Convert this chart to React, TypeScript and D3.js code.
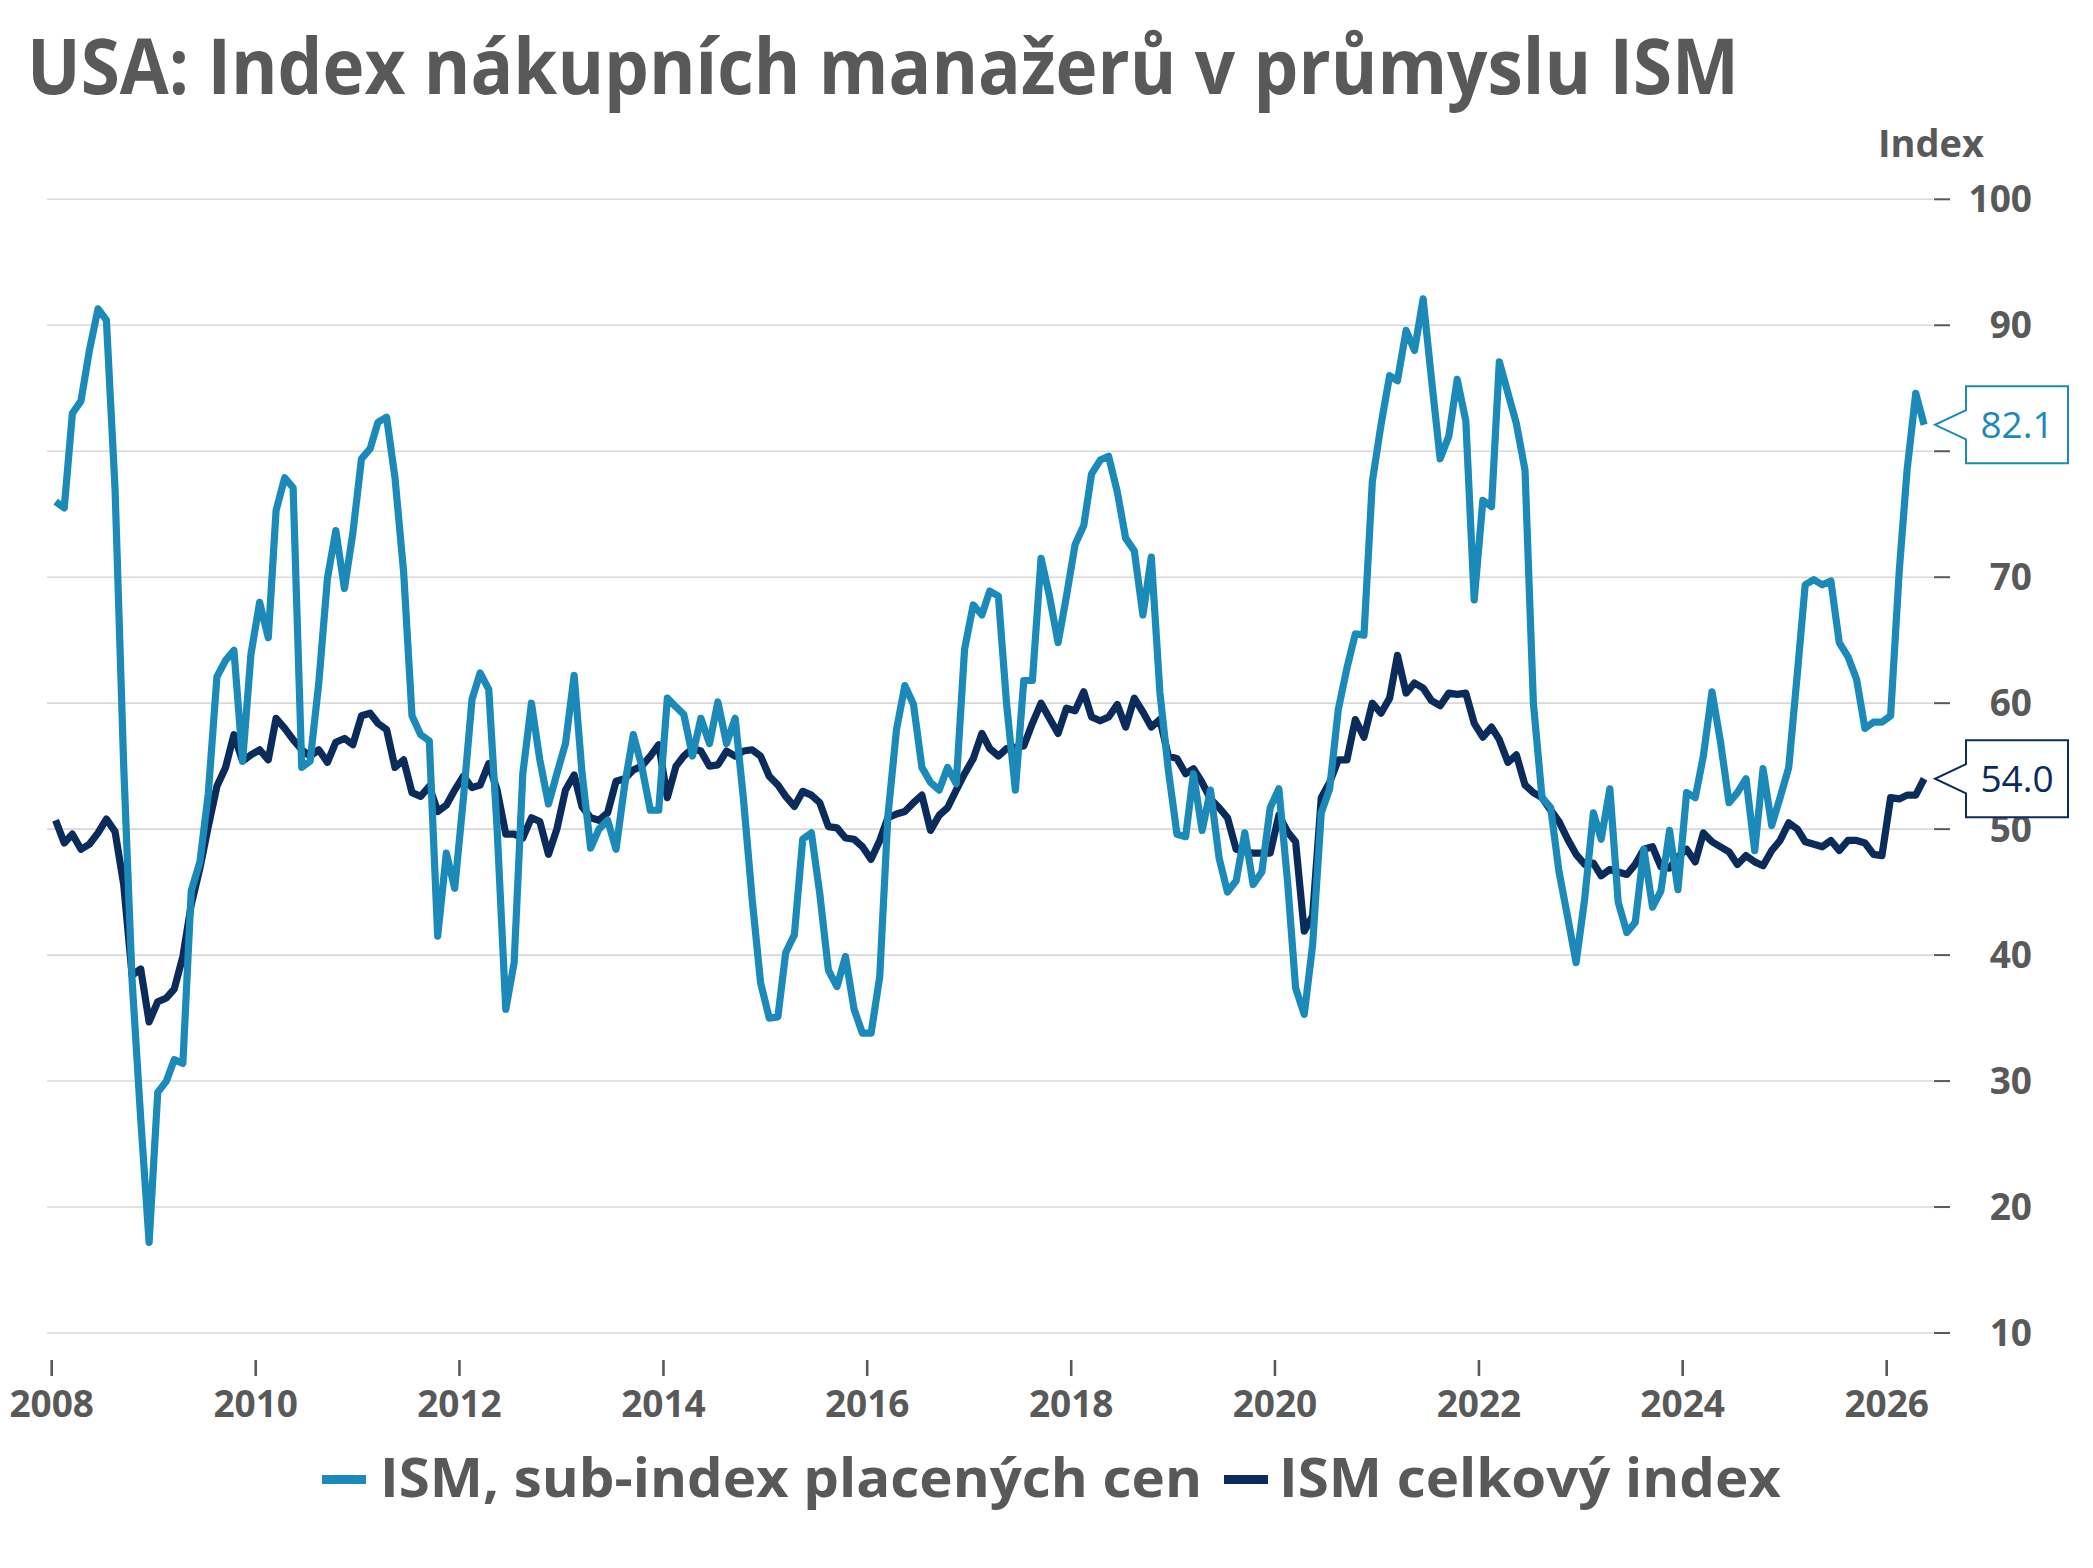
import React from "react";
import * as d3 from "d3";

// ---------- data ----------
const START_YEAR = 2008;

// ISM prices paid sub-index, monthly from Jan 2008
const pricesPaid = [
  // 2008
  76.0, 75.5, 83.0, 84.0, 88.0, 91.3, 90.4, 77.0, 55.0, 38.0, 27.0, 17.2,
  // 2009
  29.1, 30.0, 31.7, 31.4, 45.1, 47.4, 52.8, 62.1, 63.4, 64.2, 55.4, 63.9,
  // 2010
  68.0, 65.2, 75.3, 77.9, 77.1, 54.9, 55.4, 61.6, 69.9, 73.7, 69.1, 73.5,
  // 2011
  79.4, 80.2, 82.3, 82.7, 77.9, 70.4, 59.0, 57.5, 57.0, 41.5, 48.1, 45.3,
  // 2012
  52.4, 60.3, 62.4, 61.1, 50.0, 35.7, 39.4, 54.4, 60.0, 55.5, 52.0, 54.4,
  // 2013
  56.8, 62.2, 54.5, 48.5, 50.0, 50.7, 48.4, 53.5, 57.5, 55.0, 51.5, 51.5,
  // 2014
  60.4, 59.7, 59.1, 55.8, 58.8, 56.8, 60.1, 56.8, 58.8, 52.3, 44.4, 37.8,
  // 2015
  35.0, 35.1, 40.2, 41.6, 49.2, 49.7, 44.9, 38.8, 37.5, 39.9, 35.7, 33.8,
  // 2016
  33.8, 38.3, 51.0, 57.9, 61.4, 59.9, 54.9, 53.7, 53.1, 54.9, 53.6, 64.3,
  // 2017
  67.8, 67.0, 68.9, 68.5, 59.8, 53.1, 61.8, 61.8, 71.5, 68.5, 64.8, 68.5,
  // 2018
  72.6, 74.1, 78.2, 79.3, 79.6, 76.8, 73.1, 72.1, 67.0, 71.6, 60.8, 54.7,
  // 2019
  49.6, 49.4, 54.4, 49.9, 53.1, 47.7, 45.0, 45.9, 49.7, 45.6, 46.6, 51.7,
  // 2020
  53.2, 45.9, 37.4, 35.3, 40.8, 51.3, 53.2, 59.5, 62.8, 65.5, 65.4, 77.6,
  // 2021
  82.1, 86.0, 85.6, 89.6, 88.0, 92.1, 85.7, 79.4, 81.2, 85.7, 82.4, 68.2,
  // 2022
  76.1, 75.6, 87.1, 84.6, 82.2, 78.5, 60.0, 52.5, 51.7, 46.6, 43.0, 39.4,
  // 2023
  44.5, 51.3, 49.2, 53.2, 44.2, 41.8, 42.6, 48.4, 43.8, 45.1, 49.9, 45.2,
  // 2024
  52.9, 52.5, 55.8, 60.9, 57.0, 52.1, 52.9, 54.0, 48.3, 54.8, 50.3, 52.5,
  // 2025
  54.9, 62.4, 69.4, 69.8, 69.4, 69.7, 64.8, 63.7, 61.9, 58.0, 58.5, 58.5,
  // 2026
  59.0, 70.5, 78.5, 84.6, 82.1,
];

// ISM manufacturing PMI (headline), monthly from Jan 2008
const pmiTotal = [
  // 2008
  50.7, 48.9, 49.6, 48.4, 48.8, 49.7, 50.8, 49.8, 45.6, 38.4, 38.9, 34.7,
  // 2009
  36.3, 36.6, 37.3, 39.9, 44.0, 46.9, 50.2, 53.4, 54.9, 57.5, 55.4, 55.9,
  // 2010
  56.3, 55.5, 58.8, 58.0, 57.1, 56.3, 55.8, 56.3, 55.3, 56.9, 57.2, 56.7,
  // 2011
  59.0, 59.2, 58.4, 57.9, 54.9, 55.5, 52.9, 52.6, 53.4, 51.4, 51.9, 53.1,
  // 2012
  54.2, 53.3, 53.5, 55.2, 53.1, 49.6, 49.6, 49.3, 50.9, 50.6, 48.0, 50.0,
  // 2013
  53.1, 54.3, 51.8, 50.9, 50.7, 51.3, 53.8, 54.0, 54.7, 55.0, 55.8, 56.7,
  // 2014
  52.5, 55.0, 55.8, 56.4, 56.2, 55.0, 55.1, 56.2, 55.8, 56.2, 56.3, 55.8,
  // 2015
  54.2, 53.5, 52.6, 51.8, 53.0, 52.7, 52.1, 50.2, 50.1, 49.3, 49.2, 48.6,
  // 2016
  47.6, 49.1, 50.9, 51.2, 51.4, 52.1, 52.7, 49.9, 51.1, 51.7, 53.1, 54.4,
  // 2017
  55.6, 57.6, 56.4, 55.8, 56.4, 56.5, 56.6, 58.4, 60.0, 58.8, 57.6, 59.6,
  // 2018
  59.4, 60.9, 58.9, 58.6, 58.9, 59.9, 58.1, 60.4, 59.3, 58.1, 58.7, 55.8,
  // 2019
  55.6, 54.4, 54.8, 53.7, 52.4, 51.7, 50.9, 48.4, 48.2, 48.1, 48.1, 48.1,
  // 2020
  51.1, 49.8, 49.0, 41.9, 43.1, 52.5, 53.7, 55.5, 55.5, 58.7, 57.3, 60.0,
  // 2021
  59.2, 60.4, 63.8, 60.8, 61.6, 61.2, 60.2, 59.8, 60.8, 60.7, 60.8, 58.4,
  // 2022
  57.3, 58.1, 57.1, 55.3, 55.9, 53.5, 52.9, 52.5, 51.5, 50.6, 49.2, 48.0,
  // 2023
  47.2, 47.3, 46.3, 46.8, 46.6, 46.4, 47.2, 48.4, 48.6, 47.0, 46.9, 47.8,
  // 2024
  48.4, 47.4, 49.7, 49.0, 48.6, 48.2, 47.2, 47.9, 47.4, 47.1, 48.3, 49.1,
  // 2025
  50.5, 50.0, 49.0, 48.8, 48.6, 49.1, 48.3, 49.1, 49.1, 48.9, 48.0, 47.9,
  // 2026
  52.5, 52.4, 52.7, 52.7, 54.0,
];

const yTickValues = [10, 20, 30, 40, 50, 60, 70, 80, 90, 100];
const xTickYears = [2008, 2010, 2012, 2014, 2016, 2018, 2020, 2022, 2024, 2026];
const seriesNames = ["ISM, sub-index placených cen", "ISM celkový index"];
const titleText = "USA: Index nákupních manažerů v průmyslu ISM";
const unitLabel = "Index";

// ---------- style ----------
const W = 2093;
const H = 1568;
const BLUE = "#1B8AB8";
const NAVY = "#0B2C5A";
const TEXT = "#595959";
const GRID = "#D9D9D9";
const FONT = "'Open Sans', 'Noto Sans', 'DejaVu Sans', sans-serif";

const PLOT_LEFT = 47;
const PLOT_RIGHT = 1933;
const CALLOUT_HALF_H = 38.5;

function Callout({ yPos, color, label }: { yPos: number; color: string; label: string }) {
  const tipX = 1935;
  const boxL = 1966;
  const boxR = 2068;
  const halfH = CALLOUT_HALF_H;
  const notch = 14.6;
  const d = `M${boxL},${yPos - halfH} H${boxR} V${yPos + halfH} H${boxL} V${yPos + notch} L${tipX},${yPos} L${boxL},${yPos - notch} Z`;
  return (
    <g>
      <path d={d} fill="#ffffff" stroke={color} strokeWidth={2} />
      <text
        x={(boxL + boxR) / 2}
        y={yPos + 13}
        textAnchor="middle"
        fontFamily={FONT}
        fontSize={37}
        fill={color}
      >
        {label}
      </text>
    </g>
  );
}

export default function App() {
  const x = d3
    .scaleTime()
    .domain([new Date(2008, 0, 1), new Date(2026, 0, 1)])
    .range([51.7, 1886.7]);
  const y = d3.scaleLinear().domain([10, 100]).range([1333, 199.3]);

  const lineGen = d3
    .line<number>()
    .x((_, i) => x(new Date(START_YEAR, i, 15)))
    .y((d) => y(d));

  const fmt = d3.format(".1f");
  const lastPrice = pricesPaid[pricesPaid.length - 1];
  const lastPmi = pmiTotal[pmiTotal.length - 1];
  const calloutYs = [y(lastPrice), y(lastPmi)];
  // axis labels covered by an end-value callout box (as in the original)
  const hiddenUnderCallout = (v: number) =>
    calloutYs.some((cy) => Math.abs(y(v) - cy) < CALLOUT_HALF_H + 6);

  return (
    <div style={{ position: "absolute", left: 0, top: 0 }}>
      <svg width={W} height={H} viewBox={`0 0 ${W} ${H}`} style={{ display: "block", background: "#fff" }}>
        <rect x={0} y={0} width={W} height={H} fill="#ffffff" />

        {/* title */}
        <text
          x={27}
          y={94}
          fontFamily={FONT}
          fontWeight={700}
          fontSize={77}
          fill={TEXT}
          textLength={1712}
          lengthAdjust="spacingAndGlyphs"
        >
          {titleText}
        </text>

        {/* unit label */}
        <text x={1984} y={157} textAnchor="end" fontFamily={FONT} fontWeight={700} fontSize={38} fill={TEXT}>
          {unitLabel}
        </text>

        {/* gridlines + y ticks */}
        {yTickValues.map((v) => (
          <g key={v}>
            <line x1={PLOT_LEFT} x2={PLOT_RIGHT} y1={y(v)} y2={y(v)} stroke={GRID} strokeWidth={1.6} />
            <line x1={1934} x2={1950} y1={y(v)} y2={y(v)} stroke={TEXT} strokeWidth={2} />
            {!hiddenUnderCallout(v) && (
              <text
                x={2032}
                y={y(v) + 13}
                textAnchor="end"
                fontFamily={FONT}
                fontWeight={700}
                fontSize={37}
                fill={TEXT}
              >
                {v}
              </text>
            )}
          </g>
        ))}

        {/* x ticks */}
        {xTickYears.map((yr) => {
          const xp = x(new Date(yr, 0, 1));
          return (
            <g key={yr}>
              <line x1={xp} x2={xp} y1={1360} y2={1376} stroke={TEXT} strokeWidth={2.6} />
              <text x={xp} y={1417} textAnchor="middle" fontFamily={FONT} fontWeight={700} fontSize={37} fill={TEXT}>
                {yr}
              </text>
            </g>
          );
        })}

        {/* series: navy below, blue on top */}
        <path d={lineGen(pmiTotal) || ""} fill="none" stroke={NAVY} strokeWidth={7.2} strokeLinejoin="round" />
        <path d={lineGen(pricesPaid) || ""} fill="none" stroke={BLUE} strokeWidth={7.2} strokeLinejoin="round" />

        {/* end-value callouts */}
        <Callout yPos={y(lastPrice)} color={BLUE} label={fmt(lastPrice)} />
        <Callout yPos={y(lastPmi)} color={NAVY} label={fmt(lastPmi)} />

        {/* legend */}
        <rect x={322} y={1475} width={44} height={9} fill={BLUE} />
        <text
          x={380}
          y={1497}
          fontFamily={FONT}
          fontWeight={700}
          fontSize={54}
          fill={TEXT}
          textLength={822}
          lengthAdjust="spacingAndGlyphs"
        >
          {seriesNames[0]}
        </text>
        <rect x={1224} y={1475} width={44} height={9} fill={NAVY} />
        <text
          x={1279}
          y={1497}
          fontFamily={FONT}
          fontWeight={700}
          fontSize={54}
          fill={TEXT}
          textLength={502}
          lengthAdjust="spacingAndGlyphs"
        >
          {seriesNames[1]}
        </text>
      </svg>
    </div>
  );
}
